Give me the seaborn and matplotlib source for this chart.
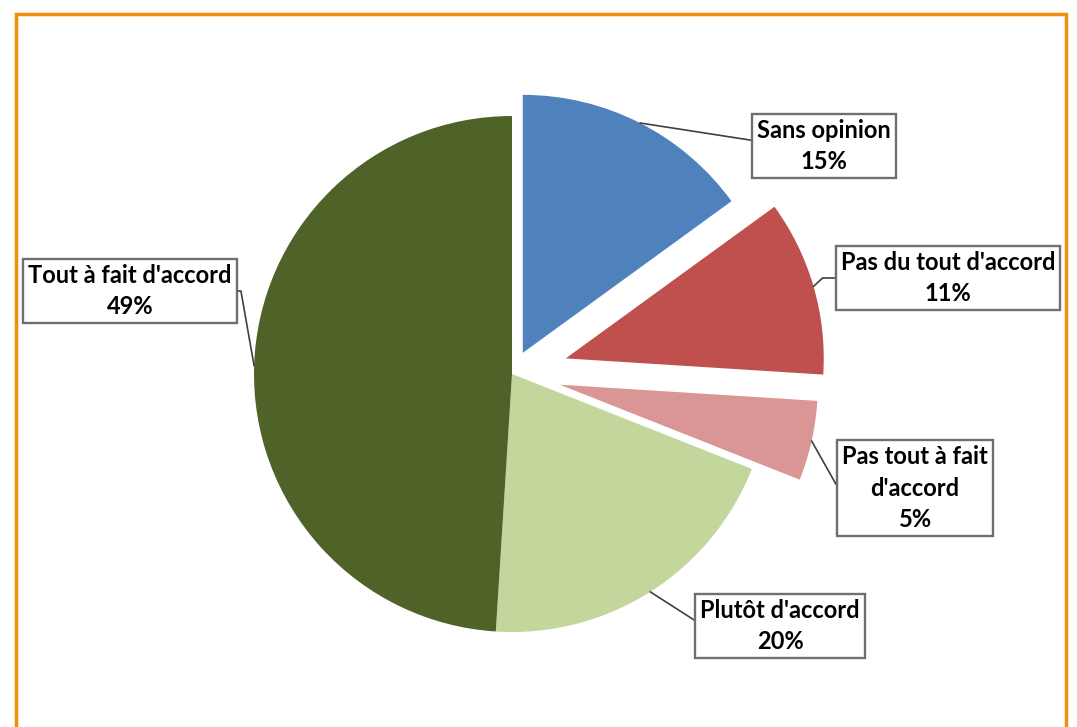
"""
plot.py
Exploded pie chart of survey answers with boxed call-out labels.
"""

import matplotlib
matplotlib.use("Agg")          # headless backend
import matplotlib.pyplot as plt
from matplotlib.patches import Rectangle
import numpy as np
import seaborn as sns


# ---------------------------------------------------------------------------
# Data
# ---------------------------------------------------------------------------
categories = [
    "Sans opinion",
    "Pas du tout d'accord",
    "Pas tout à fait\nd'accord",
    "Plutôt d'accord",
    "Tout à fait d'accord",
]
shares = [15, 11, 5, 20, 49]
slice_colors = ["#4F81BD", "#C0504D", "#D99694", "#C3D69B", "#4F6228"]

# ---------------------------------------------------------------------------
# Layout (pixel coordinates, origin top-left)
# ---------------------------------------------------------------------------
W, H = 1077, 727
pie_cx, pie_cy, pie_r = 512, 374, 258
explode_frac = [0.092, 0.217, 0.19, 0.0, 0.0]
label_xy = [(824, 146), (948, 278), (915, 488), (780, 626), (130, 291)]
leader_angle = [-8.8, 43, -60.6, -32.7, 100]

sns.set_theme(style="white")
plt.rcParams["font.family"] = ["Lato", "DejaVu Sans"]

fig = plt.figure(figsize=(W / 100, H / 100), dpi=100)
ax = fig.add_axes([0, 0, 1, 1])

palette = sns.color_palette(slice_colors)
wedges, _ = ax.pie(
    shares,
    colors=palette,
    explode=[f * pie_r for f in explode_frac],
    startangle=90,
    counterclock=False,
    center=(pie_cx, H - pie_cy),
    radius=pie_r,
    wedgeprops=dict(linewidth=0),
)
ax.set_xlim(0, W)
ax.set_ylim(0, H)
ax.set_aspect("equal")
ax.axis("off")

# call-out labels, leader line starts at the middle of each wedge's arc
for w, name, val, (lx, ly), ang_b in zip(wedges, categories, shares, label_xy, leader_angle):
    mid = np.deg2rad((w.theta1 + w.theta2) / 2)
    anchor = (w.center[0] + w.r * np.cos(mid), w.center[1] + w.r * np.sin(mid))
    ax.annotate(
        f"{name}\n{val}%",
        xy=anchor,
        xytext=(lx, H - ly),
        ha="center", va="center",
        fontsize=17, fontweight="bold", color="black",
        linespacing=1.45,
        bbox=dict(boxstyle="square,pad=0.22", fc="white", ec="#6F6F6F", lw=1.7),
        arrowprops=dict(
            arrowstyle="-", color="#404040", lw=1.2, shrinkA=0, shrinkB=0,
            connectionstyle=f"angle,angleA=0,angleB={ang_b},rad=0",
        ),
        zorder=5,
    )

# orange frame, open at the bottom edge of the image
fig.add_artist(Rectangle(
    (16 / W, -0.1), (1066 - 16) / W, 1 - 14 / H + 0.1,
    transform=fig.transFigure, fill=False, ec="#F0900A", lw=2.5,
))

fig.savefig("out.png", dpi=100)
plt.close(fig)
